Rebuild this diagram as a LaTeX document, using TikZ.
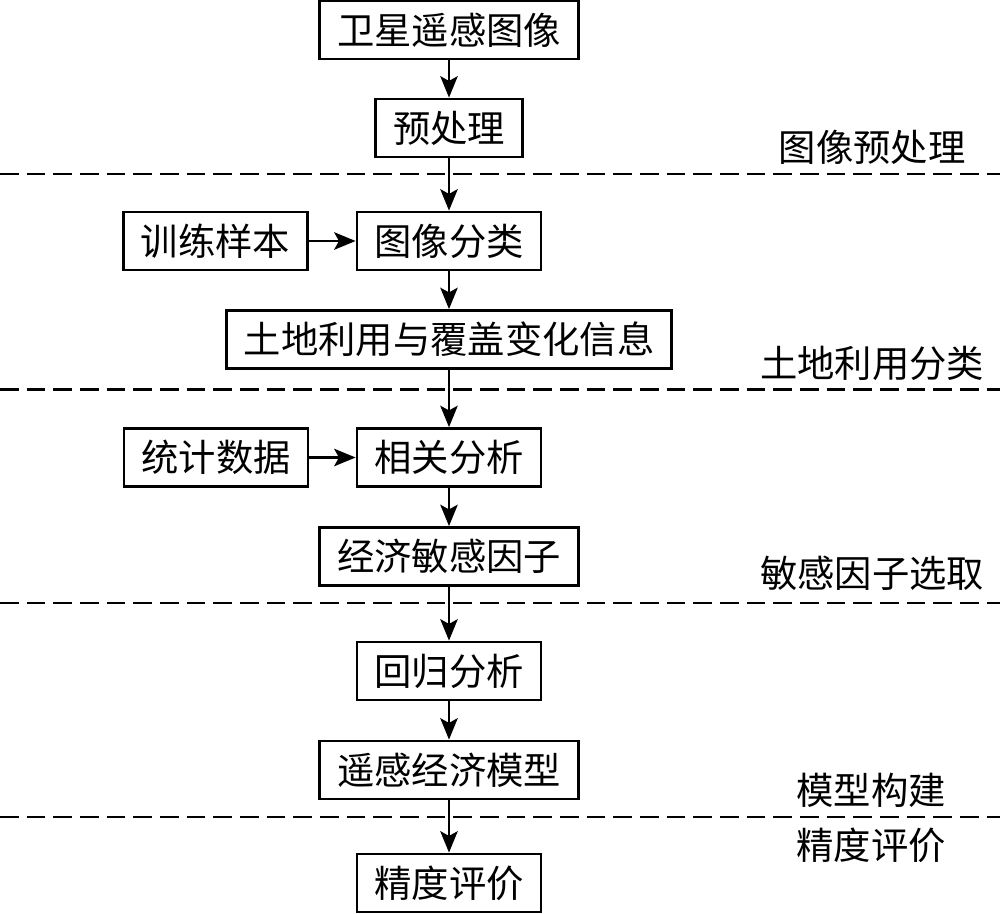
\documentclass[tikz,border=0pt]{standalone}
\usepackage{fontspec}
\newfontfamily\cjk{Noto Sans CJK SC}
\usepackage[]{tikz}
\usetikzlibrary{arrows.meta}
\tikzset{kuang/.style={draw,line width=2.1pt,font=\cjk\fontsize{28}{34}\selectfont,inner xsep=13pt,minimum height=43.5pt},
  fenge/.style={line width=2.1pt,dash pattern=on 14pt off 6pt},
  jiantou/.style={-{Stealth[length=16pt,width=13pt,inset=3.5pt]},line width=2.1pt},
  jieduan/.style={font=\cjk\fontsize{28}{34}\selectfont}}
\begin{document}
\begin{tikzpicture}[x=0.75pt,y=-0.75pt] %按像素坐标
            \useasboundingbox (0,0) rectangle (1000,914);
            % 主流程
            \node[kuang] (wx) at (449,30) {卫星遥感图像};
            \node[kuang] (ycl) at (449,128) {预处理};
            \node[kuang] (fl) at (449,241) {图像分类};
            \node[kuang] (xl) at (215.5,241) {训练样本};
            \node[kuang] (td) at (449,339.5) {土地利用与覆盖变化信息};
            \node[kuang] (xg) at (449,457.5) {相关分析};
            \node[kuang] (tj) at (216,457.5) {统计数据};
            \node[kuang] (yz) at (449,556.5) {经济敏感因子};
            \node[kuang] (hg) at (449,671) {回归分析};
            \node[kuang] (mx) at (449,770) {遥感经济模型};
            \node[kuang] (jd) at (449,883) {精度评价};
            % 分隔虚线
            \draw[fenge] (0,174)--(1000,174);
            \draw[fenge] (0,389.5)--(1000,389.5);
            \draw[fenge] (0,603)--(1000,603);
            \draw[fenge] (0,817)--(1000,817);
            % 阶段名称
            \node[jieduan] (s1) at (872,147) {图像预处理};
            \node[jieduan] (s2) at (872,363) {土地利用分类};
            \node[jieduan] (s3) at (872,573) {敏感因子选取};
            \node[jieduan] (s4) at (871,790) {模型构建};
            \node[jieduan] (s5) at (871,845) {精度评价};
            % 箭头
            \draw[jiantou] (wx)--(ycl);
            \draw[jiantou] (ycl)--(fl);
            \draw[jiantou] (xl)--(fl);
            \draw[jiantou] (fl)--(td);
            \draw[jiantou] (td)--(xg);
            \draw[jiantou] (tj)--(xg);
            \draw[jiantou] (xg)--(yz);
            \draw[jiantou] (yz)--(hg);
            \draw[jiantou] (hg)--(mx);
            \draw[jiantou] (mx)--(jd);
        \end{tikzpicture}
\end{document}
